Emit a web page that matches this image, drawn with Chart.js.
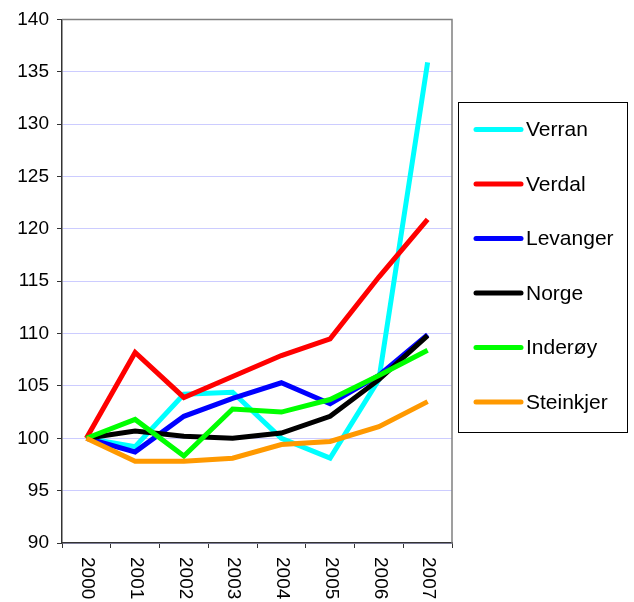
<!DOCTYPE html>
<html>
<head>
<meta charset="utf-8">
<script src="https://cdn.jsdelivr.net/npm/chart.js@4"></script>
<style>
  html, body { margin: 0; padding: 0; background: #fff; }
  #wrap { width: 634px; height: 602px; }
</style>
</head>
<body>
<div id="wrap"><canvas id="befChart" width="634" height="602"></canvas></div>
<script>
(function() {
'use strict';

// data (index, 2000 = 100)
const years = ['2000', '2001', '2002', '2003', '2004', '2005', '2006', '2007'];
const seriesNames = ['Verran', 'Verdal', 'Levanger', 'Norge', 'Inderøy', 'Steinkjer'];
const seriesColors = ['#00ffff', '#ff0000', '#0000ff', '#000000', '#00ff00', '#ff9900'];
const verran = [100, 99.2, 104.2, 104.4, 100.0, 98.1, 105.6, 135.9];
const verdal = [100, 108.2, 103.9, 105.9, 107.9, 109.5, 115.4, 120.9];
const levanger = [100, 98.7, 102.1, 103.8, 105.3, 103.3, 106.0, 109.9];
const norge = [100, 100.7, 100.2, 100.0, 100.5, 102.1, 105.6, 109.8];
const inderoy = [100, 101.8, 98.3, 102.8, 102.5, 103.7, 106.0, 108.4];
const steinkjer = [100, 97.8, 97.8, 98.1, 99.4, 99.7, 101.1, 103.5];
const yMin = 90, yMax = 140, yStep = 5;

const allSeries = [verran, verdal, levanger, norge, inderoy, steinkjer];
const FONT = "'Liberation Sans', Arial, sans-serif";

const datasets = allSeries.map((vals, i) => ({
    label: seriesNames[i],
    data: vals,
    borderColor: seriesColors[i],
    backgroundColor: seriesColors[i],
    borderWidth: 5,
    pointRadius: 0,
    tension: 0,
    fill: false,
    order: allSeries.length - i // later series on top, like the original
}));

// frame, rotated year labels and the boxed legend
const decorations = {
    id: 'decorations',
    afterDraw(chart) {
        const ctx = chart.ctx;
        const area = chart.chartArea;
        const xScale = chart.scales.x;

        ctx.save();
        // gray top/right frame
        ctx.strokeStyle = '#808080';
        ctx.lineWidth = 1.5;
        ctx.beginPath();
        ctx.moveTo(area.left, area.top);
        ctx.lineTo(area.right, area.top);
        ctx.lineTo(area.right, area.bottom);
        ctx.stroke();

        // year labels, reading top to bottom
        ctx.fillStyle = '#000';
        ctx.font = '19px ' + FONT;
        ctx.textAlign = 'left';
        ctx.textBaseline = 'middle';
        years.forEach((yr, i) => {
            const x = xScale.getPixelForValue(i);
            ctx.save();
            ctx.translate(x + 1, area.bottom + 14);
            ctx.rotate(Math.PI / 2);
            ctx.fillText(yr, 0, 0);
            ctx.restore();
        });

        // legend box
        const boxX = 458.5, boxY = 102.5, boxW = 169, boxH = 330;
        ctx.strokeStyle = '#000';
        ctx.lineWidth = 1;
        ctx.strokeRect(boxX, boxY, boxW, boxH);
        ctx.font = '21px ' + FONT;
        chart.data.datasets.forEach((ds, i) => {
            const y = 129.5 + i * 54.5;
            ctx.strokeStyle = ds.borderColor;
            ctx.lineWidth = 5;
            ctx.lineCap = 'round';
            ctx.beginPath();
            ctx.moveTo(476, y);
            ctx.lineTo(521, y);
            ctx.stroke();
            ctx.fillStyle = '#000';
            ctx.fillText(ds.label, 526, y + 1);
        });
        ctx.restore();
    }
};

const ctx = document.getElementById('befChart');
new Chart(ctx, {
    type: 'line',
    data: { labels: years, datasets: datasets },
    options: {
        responsive: false,
        animation: false,
        layout: { padding: { top: 18, right: 182, left: 0, bottom: 0 } },
        plugins: {
            legend: { display: false },
            tooltip: { enabled: false }
        },
        scales: {
            x: {
                offset: true,
                grid: {
                    offset: true,
                    drawOnChartArea: false,
                    drawTicks: true,
                    tickLength: 5,
                    tickColor: '#333'
                },
                border: { color: '#333', width: 1.5 },
                ticks: { display: false },
                afterFit(scale) { scale.height = 59; }
            },
            y: {
                min: yMin,
                max: yMax,
                ticks: {
                    stepSize: yStep,
                    color: '#000',
                    padding: 8,
                    font: { family: FONT, size: 19 }
                },
                grid: {
                    color: '#ccccff',
                    tickColor: '#333',
                    tickLength: 5
                },
                border: { color: '#333', width: 1.5 },
                afterFit(scale) { scale.width = 62; }
            }
        }
    },
    plugins: [decorations]
});

})();
</script>
</body>
</html>
